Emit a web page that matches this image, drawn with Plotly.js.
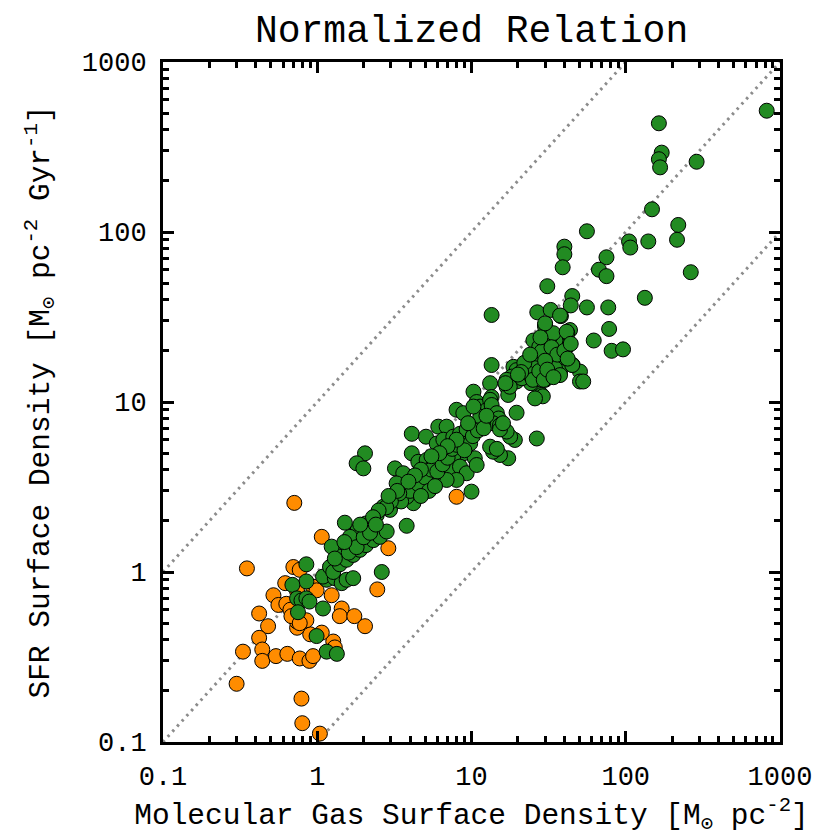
<!DOCTYPE html>
<html>
<head>
<meta charset="utf-8">
<script src="https://cdn.plot.ly/plotly-3.0.1.min.js"></script>
<style>html,body{margin:0;padding:0;background:#fff;}#chart{width:823px;height:836px;}</style>
</head>
<body>
<div id="chart"></div>
<script>
// Orange sample: molecular gas surface density (x) and SFR surface density (y)
var orangeGas = [0.71,0.35,1.07,2.89,2.45,0.70,0.77,0.62,0.52,0.56,0.63,0.94,0.99,1.24,0.42,0.48,0.42,0.33,0.44,0.44,0.54,0.64,0.77,0.89,0.94,0.30,0.79,0.80,1.04,1.44,1.40,1.74,2.04,1.27,1.07,0.90,0.74,0.74,0.81,0.85,0.67,0.68,0.77,0.74,1.30,8.0];
var orangeSFR = [2.55,1.05,1.61,1.38,0.79,1.07,1.03,0.86,0.73,0.64,0.65,0.82,0.78,0.73,0.57,0.48,0.41,0.34,0.35,0.30,0.32,0.33,0.31,0.30,0.32,0.22,0.18,0.129,0.112,0.61,0.55,0.55,0.48,0.39,0.44,0.43,0.47,0.51,0.51,0.52,0.60,0.55,0.50,0.77,0.36,2.77];

// Green sample
var greenGas = [820,164,171,164,167,288,148,219,215,264,56,40,40,39,75,67,75,105,107,140,31,45,44,56,77,133,13.5,26.7,32.6,38,30,30,43.5,41.8,35.7,78,62,41.8,81,96,27.5,27.5,26.5,27,31.5,35,38.4,45.3,50.5,50.5,37.5,30,27.8,25.8,24.6,24.3,18.7,19.6,18.2,19.6,16.9,16.9,21.2,13.5,13.2,13.5,28.5,29,53,10.3,13.2,19.6,26.5,25.8,17.3,17.7,16.6,23.4,25,27.5,29.4,32.3,34.8,37.5,45,25.2,27.5,28.5,32.3,33.9,41.4,37.5,30,
 10.8,11.4,12.6,13.2,13.5,14.6,15.0,13.8,15.3,11.9,11.4,17.3,15.3,13.8,13.2,14.6,19.1,17.8,16.9,15.3,16.0,2.04,1.80,1.99,4.10,5.07,4.10,3.19,3.61,3.27,6.09,6.9,8.0,8.85,10.3,5.95,6.57,7.62,8.42,9.3,9.8,8.85,7.62,6.57,6.25,7.26,8.42,9.3,8.0,6.9,5.66,5.12,4.87,4.41,4.2,3.8,3.11,2.96,2.68,2.43,2.25,2.07,2.04,1.89,1.83,1.71,1.63,1.47,1.40,1.34,1.27,1.21,1.15,1.09,1.51,3.8,2.62,10.0,0.85,0.85,1.24,0.69,0.74,0.79,0.85,0.89,0.75,1.09,0.99,1.15,1.34,1.21,1.30,1.44,1.55,1.71,1.27,1.40,1.55,1.71,1.89,2.07,2.31,2.55,2.82,4.52,5.12,5.66,10.5,10.8,
 3.5,4.0,4.5,5.0,5.5,6.0,6.5,7.0,5.3,4.7,3.4,3.0,2.8,2.5,2.3,7.5,8.0,9.0,10.2,11.0,12.0,12.5,9.5,8.0,7.0,6.2,5.5,4.7,4.3,3.9,3.3,2.9,5.8,1.6,1.8,2.0,2.2,1.5,1.3,1.9,2.4,22,24,28,33,36,40,44,30,31,34,21,20,42];
var greenSFR = [517,436,293,268,240,259,136,110,90,58,101,82,74,62,71,60,55,88,81,88,48,42,37,36,36,41,32.5,33.7,34.8,32,28.4,27.7,26.5,25.4,23.7,26.9,23,21.3,20,20.4,22.6,20.2,18.5,16.5,20.7,23,17.3,16.5,15.1,13.2,15.1,13.5,11.2,15.8,14.1,12.9,16.1,15.4,14.1,13.2,13.5,12.3,13.8,16.5,12.9,10.7,11,10.8,13.2,11.5,10.0,8.65,6.1,10.5,11,12.3,12.9,14.7,13.5,15.2,13.5,17.7,15.8,14.4,16.5,23,21.1,19.8,24.2,25.4,25.9,32.3,29,
 10.0,9.4,9.0,10.3,9.6,8.6,8.0,7.5,7.3,7.5,8.2,4.67,4.88,5.1,5.46,5.3,5.98,6.25,6.7,6.9,7.5,4.99,4.36,4.07,6.5,6.25,4.99,4.07,3.81,3.32,7.16,7.16,9.0,8.6,9.4,5.7,6.0,6.25,6.5,6.9,5.7,4.99,4.8,4.56,4.17,3.98,4.17,3.81,3.48,3.48,3.64,3.48,3.18,2.90,2.54,2.77,2.54,2.32,2.42,2.16,1.93,1.93,1.77,1.61,1.77,1.47,1.61,1.35,1.23,1.12,1.03,0.94,0.90,0.94,1.95,1.87,1.0,2.97,1.11,0.88,1.41,0.84,0.70,0.68,0.70,0.67,0.58,0.61,0.42,0.34,0.33,1.07,0.92,0.86,0.90,0.92,1.0,1.11,1.18,1.26,1.35,1.44,1.54,1.61,1.73,4.45,4.56,4.26,4.67,4.26,
 2.6,3.0,3.3,3.6,4.0,3.9,4.3,4.7,3.0,2.8,2.9,2.6,2.4,2.3,2.1,5.3,5.6,5.2,6.3,6.8,7.0,8.3,7.5,6.0,5.5,5.0,4.8,4.0,3.7,3.4,3.0,2.8,3.2,1.3,1.4,1.6,1.7,1.5,1.2,1.9,1.9,17,19,24,21,19,20,22,17.5,15.5,14,15,14.5,18];

// Reference relations: SFR = ratio * gas
var refRatios = [10, 1, 0.1];
var axisSpan = [0.1, 1000];
var tickVals = [0.1, 1, 10, 100, 1000];
var tickText = ['0.1', '1', '10', '100', '1000'];

var minorVals = [];
[0.1, 1, 10, 100].forEach(function (d) { for (var k = 2; k <= 9; k++) minorVals.push(d * k); });

var traces = [];
refRatios.forEach(function (r) {
  traces.push({
    x: axisSpan, y: axisSpan.map(function (v) { return v * r; }),
    mode: 'lines', type: 'scatter', hoverinfo: 'skip', showlegend: false,
    line: {color: '#8c8c8c', width: 3, dash: '2.5px,4.5px'}
  });
});
traces.push({
  x: orangeGas, y: orangeSFR, mode: 'markers', type: 'scatter', showlegend: false,
  marker: {size: 15, color: '#FF8C00', line: {color: '#000', width: 1}}
});
traces.push({
  x: greenGas, y: greenSFR, mode: 'markers', type: 'scatter', showlegend: false,
  marker: {size: 15, color: '#228B22', line: {color: '#000', width: 1}}
});

var fontFam = '"Liberation Mono", "DejaVu Sans Mono", monospace';
function axisDef(titleText, standoff, titleSize) {
  return {
    type: 'log', range: [-1, 3], autorange: false,
    tickmode: 'array', tickvals: tickVals, ticktext: tickText,
    ticks: 'inside', ticklen: 11, tickwidth: 3, tickcolor: '#000',
    minor: {tickmode: 'array', tickvals: minorVals, ticks: 'inside', ticklen: 6, tickwidth: 3, tickcolor: '#000', showgrid: false},
    showline: true, linewidth: 3, linecolor: '#000', mirror: 'ticks',
    showgrid: false, zeroline: false,
    tickfont: {family: fontFam, size: 27, color: '#000'},
    ticklabelstandoff: 8,
    title: {text: titleText, font: {family: fontFam, size: titleSize, color: '#000'}, standoff: standoff}
  };
}

var layout = {
  width: 823, height: 836,
  margin: {l: 163, r: 43, t: 62, b: 94},
  paper_bgcolor: '#fff', plot_bgcolor: '#fff',
  title: {text: 'Normalized Relation', font: {family: fontFam, size: 38, color: '#000'},
          x: 0.573, xanchor: 'center', xref: 'container', y: 0.966, yanchor: 'middle', yref: 'container'},
  xaxis: axisDef('Molecular Gas Surface Density [M<sub>⊙</sub> pc<sup>-2</sup>]', 13, 29.5),
  yaxis: axisDef('SFR Surface Density [M<sub>⊙</sub> pc<sup>-2</sup> Gyr<sup>-1</sup>]', 24, 29.5),
  showlegend: false
};

Plotly.newPlot('chart', traces, layout, {displayModeBar: false, staticPlot: true});
</script>
</body>
</html>
